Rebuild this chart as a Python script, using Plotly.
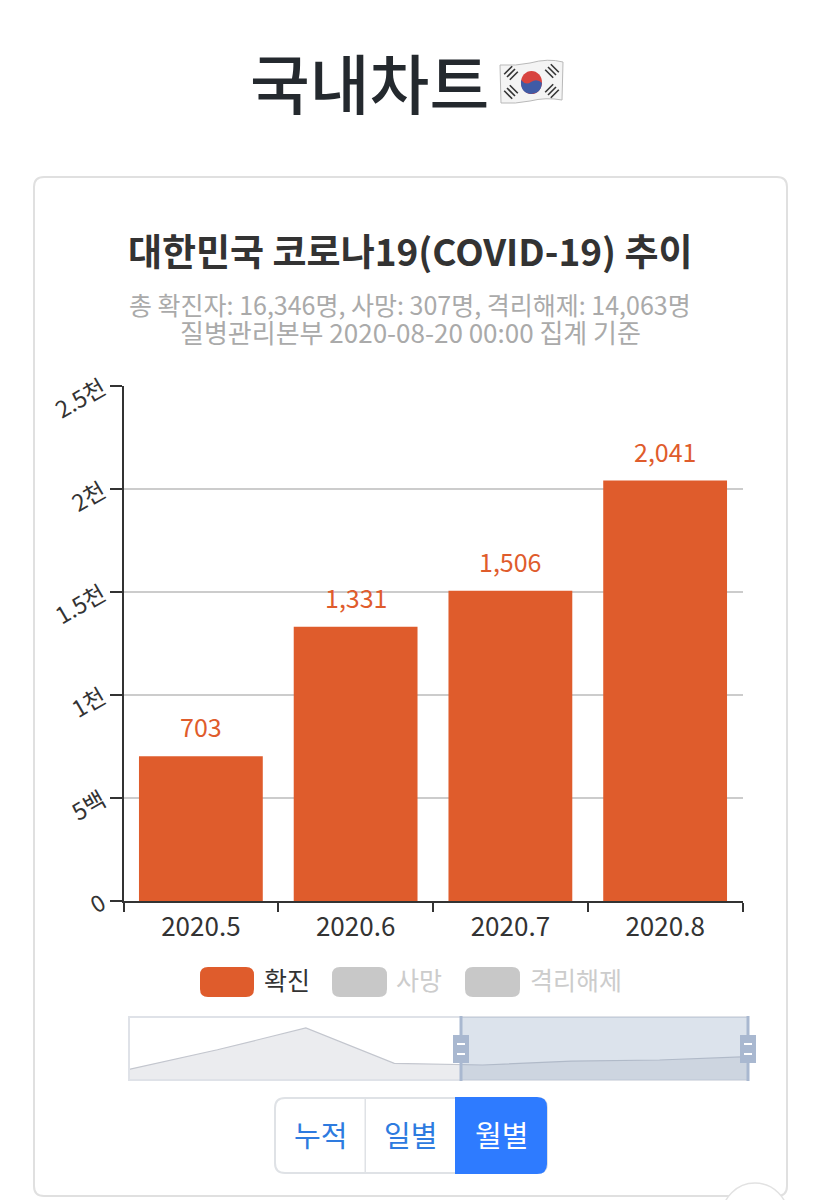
import plotly.graph_objects as go

W, H = 821, 1200
FONT = "Noto Sans CJK KR"

months = ["2020.5", "2020.6", "2020.7", "2020.8"]
confirmed = [703, 1331, 1506, 2041]
bar_labels = ["703", "1,331", "1,506", "2,041"]
y_ticks = [0, 500, 1000, 1500, 2000, 2500]
y_labels = ["0", "5백", "1천", "1.5천", "2천", "2.5천"]

all_months = ["2020.1", "2020.2", "2020.3", "2020.4", "2020.5", "2020.6", "2020.7", "2020.8"]
all_confirmed = [11, 3150, 6636, 979, 703, 1331, 1506, 2041]
mini_floor = [-1700] * 8

legend_names = ["확진", "사망", "격리해제"]
buttons = ["누적", "일별", "월별"]


def px(x):
    return x / W


def py(y):
    return 1 - y / H


def rounded(x0, y0, x1, y1, r):
    return (f"M{px(x0+r)},{py(y0)} L{px(x1-r)},{py(y0)} Q{px(x1)},{py(y0)} {px(x1)},{py(y0+r)} "
            f"L{px(x1)},{py(y1-r)} Q{px(x1)},{py(y1)} {px(x1-r)},{py(y1)} L{px(x0+r)},{py(y1)} "
            f"Q{px(x0)},{py(y1)} {px(x0)},{py(y1-r)} L{px(x0)},{py(y0+r)} Q{px(x0)},{py(y0)} {px(x0+r)},{py(y0)} Z")


def box(x0, y0, x1, y1, fill, line=None, width=0):
    return dict(type="rect", xref="paper", yref="paper", x0=px(x0), x1=px(x1), y0=py(y0), y1=py(y1),
                fillcolor=fill, line=dict(color=line, width=width))


def path(d, fill="rgba(0,0,0,0)", line=None, width=0):
    return dict(type="path", xref="paper", yref="paper", path=d, fillcolor=fill,
                line=dict(color=line, width=width))


def label(text, x, y, size, color, weight=400):
    return dict(text=text, x=px(x), y=py(y), xref="paper", yref="paper", showarrow=False,
                xanchor="center", yanchor="middle", font=dict(family=FONT, size=size, color=color, weight=weight))


fig = go.Figure()
fig.add_trace(go.Bar(x=months, y=confirmed, marker=dict(color="#df5c2c", line_width=0), width=0.8,
                     xaxis="x", yaxis="y", showlegend=False))
fig.add_trace(go.Scatter(x=all_months, y=mini_floor, mode="lines", line=dict(width=0), xaxis="x2", yaxis="y2",
                         showlegend=False, hoverinfo="skip"))
fig.add_trace(go.Scatter(x=all_months, y=all_confirmed, mode="lines", fill="tonexty", fillcolor="#ebecef",
                         line=dict(color="#c3c6ce", width=1.2), xaxis="x2", yaxis="y2", showlegend=False))

shapes = []
# card
shapes.append(path(rounded(34, 177, 787, 1196, 10), fill="rgba(0,0,0,0)", line="#e0e0e0", width=2))
# mini chart frame, selection and handles
shapes.append(box(129, 1017, 748, 1080, "rgba(0,0,0,0)", "#dfe2e8", 2))
shapes.append(dict(type="rect", xref="x2", yref="paper", x0=3.755, x1=7, y0=py(1017), y1=py(1080),
                   fillcolor="rgba(130,155,185,0.28)", line_width=0))
for hx in [461, 748]:
    shapes.append(box(hx - 1.5, 1016, hx + 1.5, 1081, "#a9b8d0"))
    shapes.append(box(hx - 8, 1035, hx + 8, 1063, "#a9b8d0"))
    shapes.append(box(hx - 4, 1043, hx + 4, 1045, "#ffffff"))
    shapes.append(box(hx - 4, 1053, hx + 4, 1055, "#ffffff"))
# legend swatches
for (x0, x1), col in zip([(200, 254), (332, 387), (465, 520)], ["#df5c2c", "#c8c8c8", "#c8c8c8"]):
    shapes.append(path(rounded(x0, 967, x1, 997, 8), fill=col))
# button group
shapes.append(path(rounded(275, 1098, 547, 1173, 10), fill="#ffffff", line="#dfe2e6", width=2))
shapes.append(box(364.5, 1098, 366, 1173, "#dfe2e6"))
shapes.append(path(f"M{px(455)},{py(1097)} L{px(537)},{py(1097)} Q{px(547)},{py(1097)} {px(547)},{py(1107)} "
                   f"L{px(547)},{py(1164)} Q{px(547)},{py(1174)} {px(537)},{py(1174)} L{px(455)},{py(1174)} Z",
                   fill="#2e7bff"))
# round button cut off by the bottom edge
shapes.append(dict(type="circle", xref="paper", yref="paper", x0=px(722), x1=px(788), y0=py(1183), y1=py(1249),
                   fillcolor="#ffffff", line=dict(color="#e2e2e2", width=1.5)))
# flag emoji
shapes.append(path(f"M{px(500)},{py(65)} Q{px(516)},{py(66)} {px(530)},{py(63)} Q{px(548)},{py(58)} {px(563)},{py(62)} "
                   f"L{px(562)},{py(100)} Q{px(546)},{py(97)} {px(530)},{py(101)} Q{px(515)},{py(104)} {px(501)},{py(103)} Z",
                   fill="#f4f4f4", line="#b9b9b9", width=1))
shapes.append(dict(type="circle", xref="paper", yref="paper", x0=px(521), x1=px(542), y0=py(71), y1=py(94),
                   fillcolor="#d8433f", line_width=0))
shapes.append(path(f"M{px(521)},{py(80)} Q{px(526)},{py(86)} {px(531)},{py(82)} Q{px(537)},{py(78)} {px(542)},{py(83)} "
                   f"Q{px(541)},{py(94)} {px(531)},{py(94)} Q{px(520)},{py(93)} {px(521)},{py(80)} Z", fill="#3f5ba6"))
for fx, fy, dx, dy in [(511, 73, 1, 1), (552, 71, -1, 1), (511, 92, 1, -1), (552, 91, -1, -1)]:
    for k in [-4, 0, 4]:
        x_mid, y_mid = fx + k * 0.7 * dx, fy + k * 0.7 * dy
        shapes.append(dict(type="line", xref="paper", yref="paper", x0=px(x_mid - 4 * dx), y0=py(y_mid + 4 * dy),
                           x1=px(x_mid + 4 * dx), y1=py(y_mid - 4 * dy), line=dict(color="#333333", width=1.6)))

annotations = [
    label("국내차트", 369, 81, 65, "#24292e", 500),
    label("대한민국 코로나19(COVID-19) 추이", 410, 250, 37, "#333333", 700),
    label("총 확진자: 16,346명, 사망: 307명, 격리해제: 14,063명", 410, 304, 25, "#aaaaaa"),
    label("질병관리본부 2020-08-20 00:00 집계 기준", 410, 331, 26, "#aaaaaa"),
    label(legend_names[0], 287, 979, 25, "#333333"),
    label(legend_names[1], 419, 979, 25, "#cccccc"),
    label(legend_names[2], 576, 979, 25, "#cccccc"),
    label(buttons[0], 320, 1134, 29, "#2e7bdf"),
    label(buttons[1], 410, 1134, 29, "#2e7bdf"),
    label(buttons[2], 501, 1134, 29, "#ffffff"),
]
for i, (v, t) in enumerate(zip(confirmed, bar_labels)):
    annotations.append(dict(text=t, x=i, y=v, xref="x", yref="y", showarrow=False, yanchor="bottom", yshift=10,
                            font=dict(family=FONT, size=25, color="#df5c2c")))

fig.update_layout(
    width=W, height=H, margin=dict(l=0, r=0, t=0, b=0), paper_bgcolor="#ffffff", plot_bgcolor="rgba(0,0,0,0)",
    font=dict(family=FONT), showlegend=False, shapes=shapes, annotations=annotations,
    xaxis=dict(domain=[px(123.5), px(742.5)], type="category", range=[-0.5, 3.5], tickson="boundaries",
               ticks="outside", ticklen=9, tickwidth=2, tickcolor="#333333", showline=True, linecolor="#333333",
               linewidth=2, showgrid=False, tickangle=0, automargin=False, ticklabelstandoff=2,
               tickfont=dict(family=FONT, size=26, color="#333333"), anchor="y"),
    yaxis=dict(domain=[py(901), py(386)], range=[0, 2500], tickvals=y_ticks, ticktext=y_labels, ticks="outside",
               ticklen=12, tickwidth=2, tickcolor="#333333", showline=True, linecolor="#333333", linewidth=2,
               gridcolor="#cccccc", gridwidth=2, zeroline=False, tickangle=-30, automargin=False,
               ticklabelstandoff=3, tickfont=dict(family=FONT, size=23, color="#333333"), anchor="x"),
    xaxis2=dict(domain=[px(129), px(748)], type="category", range=[0, 7], visible=False, anchor="y2", automargin=False),
    yaxis2=dict(domain=[py(1080), py(1017)], range=[-1700, 8400], visible=False, anchor="x2", automargin=False),
)

fig.write_html("out.html", config={"displayModeBar": False},
               post_script="document.body.style.margin='0';document.documentElement.style.overflow='hidden';")
